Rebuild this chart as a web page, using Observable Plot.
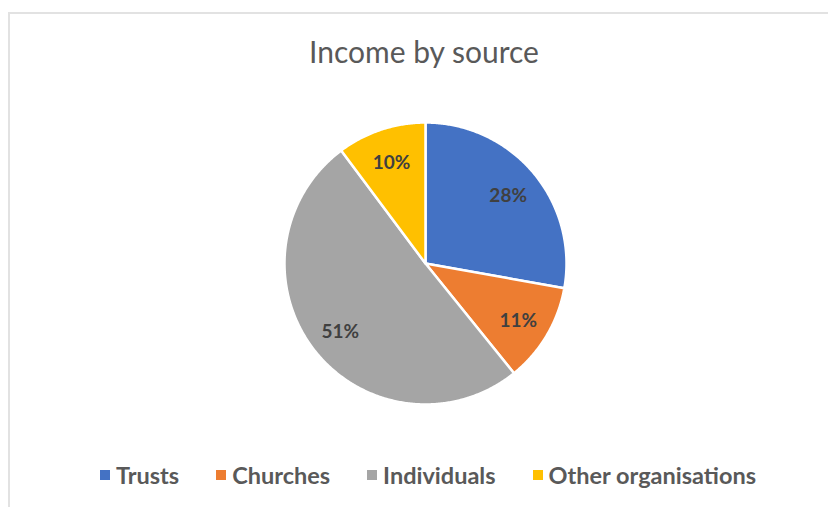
<!DOCTYPE html>
<html>
<head>
<meta charset="utf-8">
<script src="https://cdn.jsdelivr.net/npm/d3@7"></script>
<script src="https://cdn.jsdelivr.net/npm/@observablehq/plot@0.6"></script>
<style>
  html, body { margin: 0; padding: 0; background: #fff; overflow: hidden; }
  body { width: 828px; height: 507px; position: relative; font-family: Lato, "Open Sans", sans-serif; }
  #frame { position: absolute; left: 8px; top: 12px; width: 900px; height: 600px;
           border-top: 2px solid #e2e2e2; border-left: 2px solid #e2e2e2; }
  #title { position: absolute; left: 0; width: 848px; top: 33px; text-align: center;
           font-size: 30px; color: #595959; font-weight: 400; }
  #chart { position: absolute; left: 275px; top: 113px; }
  #legend { position: absolute; left: 0; width: 856px; top: 461px; display: flex; justify-content: center;
            gap: 37px; font-size: 23.5px; color: #595959; font-weight: 700; }
  .item { display: flex; align-items: center; gap: 6px; }
  .sw { width: 10px; height: 10px; display: inline-block; }
</style>
</head>
<body>
<div id="frame"></div>
<div id="title">Income by source</div>
<div id="chart"></div>
<div id="legend"></div>
<script>
const categories = ["Trusts", "Churches", "Individuals", "Other organisations"];
const shares = [27.8, 11.4, 50.6, 10.2];
const colors = ["#4472C4", "#ED7D31", "#A5A5A5", "#FFC000"];

const R = 141;
const data = categories.map((c, i) => ({category: c, value: shares[i]}));
const arcs = d3.pie().sort(null).value(d => d.value)(data);

// polygon outline of each slice (angles clockwise from 12 o'clock)
const outline = [];
arcs.forEach(a => {
  const c = a.data.category;
  outline.push({category: c, x: 0, y: 0});
  const n = Math.max(2, Math.ceil((a.endAngle - a.startAngle) / (Math.PI / 360)));
  for (let k = 0; k <= n; k++) {
    const t = a.startAngle + (a.endAngle - a.startAngle) * k / n;
    outline.push({category: c, x: R * Math.sin(t), y: R * Math.cos(t)});
  }
  outline.push({category: c, x: 0, y: 0});
});

const labelR = 0.765 * R;
const labels = arcs.map(a => {
  const m = (a.startAngle + a.endAngle) / 2;
  return {category: a.data.category, x: labelR * Math.sin(m), y: labelR * Math.cos(m) - 2,
          text: Math.round(a.data.value) + "%"};
});

const plot = Plot.plot({
  width: 300, height: 300,
  margin: 0,
  x: {domain: [-150, 150], axis: null},
  y: {domain: [-150, 150], axis: null},
  color: {domain: categories, range: colors},
  marks: [
    Plot.line(outline, {x: "x", y: "y", z: "category", fill: "category",
                        stroke: "white", strokeWidth: 2.5, strokeLinejoin: "round", curve: "linear"}),
    Plot.text(labels, {x: "x", y: "y", text: "text", fill: "#404040",
                       fontSize: 19, fontWeight: 700, fontFamily: "Lato, sans-serif"})
  ]
});
document.getElementById("chart").appendChild(plot);

const legend = document.getElementById("legend");
categories.forEach((c, i) => {
  const it = document.createElement("div");
  it.className = "item";
  const sw = document.createElement("span");
  sw.className = "sw";
  sw.style.background = colors[i];
  const tx = document.createElement("span");
  tx.textContent = c;
  it.appendChild(sw); it.appendChild(tx);
  legend.appendChild(it);
});
</script>
</body>
</html>
